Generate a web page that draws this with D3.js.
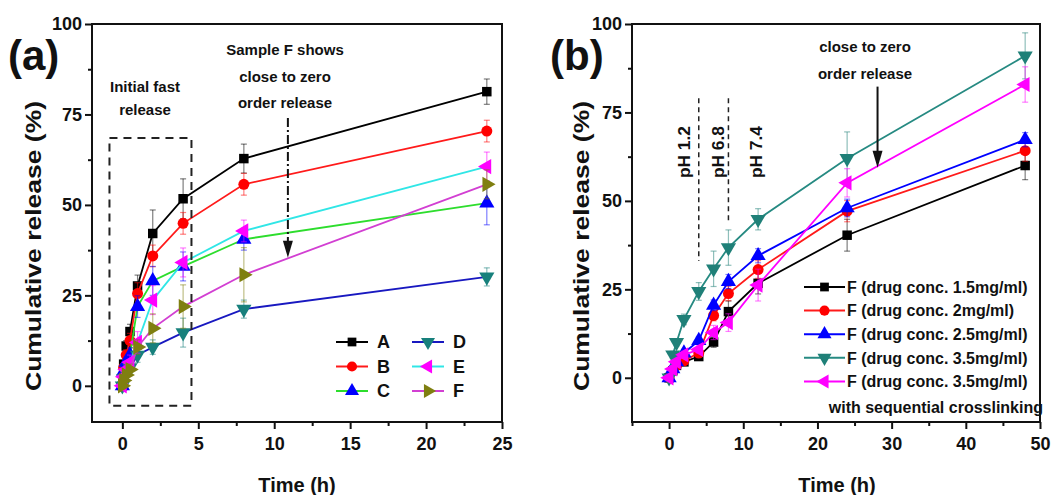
<!DOCTYPE html>
<html>
<head>
<meta charset="utf-8">
<script src="https://cdn.jsdelivr.net/npm/d3@7"></script>
<style>
  body { margin: 0; background: #fff; }
  svg text { font-family: 'Liberation Sans', Arial, sans-serif; font-weight: bold; fill: #111; }
</style>
</head>
<body>
<svg id="chart" width="1063" height="495"></svg>
<script>
// ---- panel (a): samples A-F ----
const timeA = [0, 0.083, 0.25, 0.5, 1, 2, 4, 8, 24]
const sampleNames = ['A', 'B', 'C', 'D', 'E', 'F']
const releaseA = [0, 6, 11, 15, 27.6, 42.1, 51.7, 62.8, 81.3]
const releaseB = [0, 5, 8.5, 12.5, 25.5, 35.9, 44.9, 55.7, 70.4]
const releaseC = [0, 4, 6.5, 8.5, 21.9, 29, 33, 40.5, 50.5]
const releaseD = [0, 2, 3.5, 5, 8.5, 10.7, 14.7, 21.2, 30.1]
const releaseE = [0, 2.5, 4.5, 6.5, 12, 23.7, 34.1, 42.8, 60.6]
const releaseF = [0, 1.5, 3, 4.5, 10.7, 15.9, 21.9, 30.7, 55.7]
const errA = [0, 1, 1.5, 2, 3, 6.5, 5.5, 4, 3.5]
const errB = [0, 1, 1.5, 2, 3, 3, 3, 3, 3]
const errC = [0, 1, 1, 2, 3, 4, 4, 3, 6]
const errD = [0, 1, 1, 1.5, 2, 2, 4, 2.5, 2.5]
const errE = [0, 1, 1, 2, 3, 4, 4, 3, 4]
const errF = [0, 1, 1, 1.5, 2, 4, 6, 7.5, 4]
const xTicksA = [0, 5, 10, 15, 20, 25]
const xMinorA = [2.5, 7.5, 12.5, 17.5, 22.5]

// ---- panel (b): sample F at different drug concentrations ----
const timeB = [0, 0.5, 1, 2, 4, 6, 8, 12, 24, 48]
const concNames = [
  'F (drug conc. 1.5mg/ml)', 'F (drug conc. 2mg/ml)', 'F (drug conc. 2.5mg/ml)',
  'F (drug conc. 3.5mg/ml)', 'F (drug conc. 3.5mg/ml)'
]
const conc15 = [0, 2, 3.5, 4.5, 6, 10.1, 18.7, 26.7, 40.3, 60.0]
const conc2 = [0, 2, 3.5, 4.8, 7, 17.6, 23.8, 30.6, 47.1, 64.2]
const conc25 = [0, 2.5, 4.5, 7, 10.5, 20.5, 27.2, 34.5, 48.0, 67.3]
const conc35 = [0, 6.5, 10, 16.5, 24.4, 30.8, 36.8, 44.8, 62, 91]
const conc35x = [0, 2.5, 4.5, 6.5, 8, 12.8, 15.6, 26.2, 55.1, 82.9]
const err15 = [0, 0.5, 0.5, 0.5, 1, 1.5, 3, 3, 4.5, 4]
const err2 = [0, 0.5, 0.5, 0.5, 1, 1.5, 2, 2.5, 3, 3]
const err25 = [0, 0.5, 0.5, 1, 1, 1.5, 2, 2, 2.5, 2]
const err35 = [0, 1, 1, 1.5, 2.5, 5, 5, 3, 7.5, 6.5]
const err35x = [0, 0.5, 0.5, 1, 1, 2, 2.5, 4.5, 4, 5]
const xTicksB = [0, 10, 20, 30, 40, 50]
const xMinorB = [-5, 5, 15, 25, 35, 45]

const yTicks = [0, 25, 50, 75, 100]
const yMinor = [12.5, 37.5, 62.5, 87.5]

const svg = d3.select('#chart')

const SQ = { type: d3.symbolSquare, size: 90, rot: 0 }
const CI = { type: d3.symbolCircle, size: 95, rot: 0 }
const UP = { type: d3.symbolTriangle, size: 100, rot: 0 }
const DN = { type: d3.symbolTriangle, size: 100, rot: 180 }
const LT = { type: d3.symbolTriangle, size: 100, rot: -90 }
const RT = { type: d3.symbolTriangle, size: 100, rot: 90 }

const seriesA = [
  { name: sampleNames[0], values: releaseA, err: errA, line: '#000000', marker: '#000000', sym: SQ },
  { name: sampleNames[1], values: releaseB, err: errB, line: '#ff1a1a', marker: '#ff0000', sym: CI },
  { name: sampleNames[2], values: releaseC, err: errC, line: '#2ddd2d', marker: '#0000ff', sym: UP },
  { name: sampleNames[3], values: releaseD, err: errD, line: '#1818c0', marker: '#17807c', sym: DN },
  { name: sampleNames[4], values: releaseE, err: errE, line: '#30e6e6', marker: '#ff00ff', sym: LT },
  { name: sampleNames[5], values: releaseF, err: errF, line: '#d23fd2', marker: '#7f7f10', sym: RT }
]
const seriesB = [
  { name: concNames[0], values: conc15, err: err15, line: '#000000', marker: '#000000', sym: SQ },
  { name: concNames[1], values: conc2, err: err2, line: '#ff1a1a', marker: '#ff0000', sym: CI },
  { name: concNames[2], values: conc25, err: err25, line: '#0000ff', marker: '#0000ff', sym: UP },
  { name: concNames[3], values: conc35, err: err35, line: '#268a82', marker: '#1f8078', sym: DN },
  { name: concNames[4], values: conc35x, err: err35x, line: '#ff00ff', marker: '#ff00ff', sym: LT }
]

function drawPanel (cfg) {
  const g = svg.append('g')
  const x = d3.scaleLinear().domain(cfg.xDomain).range([cfg.left, cfg.right])
  const y = d3.scaleLinear().domain(cfg.yDomain).range([cfg.bottom, cfg.top])

  // axes (ticks outward), frame drawn on top
  const xa = g.append('g').attr('transform', 'translate(0,' + cfg.bottom + ')')
    .call(d3.axisBottom(x).tickValues(cfg.xTicks).tickSize(7).tickPadding(8).tickSizeOuter(0))
  xa.append('g').call(d3.axisBottom(x).tickValues(cfg.xMinor).tickSize(4).tickFormat('').tickSizeOuter(0))
  const ya = g.append('g').attr('transform', 'translate(' + cfg.left + ',0)')
    .call(d3.axisLeft(y).tickValues(yTicks).tickSize(7).tickPadding(3).tickSizeOuter(0))
  ya.append('g').call(d3.axisLeft(y).tickValues(yMinor).tickSize(4).tickFormat('').tickSizeOuter(0))
  g.selectAll('.domain').remove()
  g.selectAll('.tick line').attr('stroke', '#111').attr('stroke-width', 2)
  g.selectAll('.tick text').style('font-size', '18px')

  g.append('rect')
    .attr('x', cfg.left).attr('y', cfg.top)
    .attr('width', cfg.right - cfg.left).attr('height', cfg.bottom - cfg.top)
    .attr('fill', 'none').attr('stroke', '#111').attr('stroke-width', 2)

  // titles
  g.append('text')
    .attr('x', cfg.xTitleX).attr('y', 492)
    .attr('text-anchor', 'middle').style('font-size', '20px')
    .text('Time (h)')
  g.append('text')
    .attr('transform', 'translate(' + cfg.yTitleX + ',246) rotate(-90)')
    .attr('text-anchor', 'middle').attr('dy', '0.35em')
    .attr('textLength', 290).attr('lengthAdjust', 'spacingAndGlyphs')
    .style('font-size', '22px')
    .text('Cumulative release (%)')
  g.append('text')
    .attr('x', cfg.tagX).attr('y', 70)
    .style('font-size', '42px')
    .text(cfg.tag)

  // series
  const line = d3.line().x(d => x(d.t)).y(d => y(d.v))
  cfg.series.forEach(s => {
    const pts = s.values.map((v, i) => ({ t: cfg.time[i], v: v, e: s.err[i] }))
    g.append('path').datum(pts)
      .attr('fill', 'none').attr('stroke', s.line).attr('stroke-width', 1.8)
      .attr('d', line)
    const eb = g.append('g').attr('stroke', s.marker).attr('stroke-opacity', 0.5).attr('stroke-width', 1.2)
    const withErr = pts.filter(d => d.e > 0)
    eb.selectAll('.v').data(withErr).enter().append('line')
      .attr('x1', d => x(d.t)).attr('x2', d => x(d.t))
      .attr('y1', d => y(d.v - d.e)).attr('y2', d => y(d.v + d.e))
    eb.selectAll('.cap').data(withErr.flatMap(d => [d.v - d.e, d.v + d.e].map(v => ({ t: d.t, v: v }))))
      .enter().append('line')
      .attr('x1', d => x(d.t) - 3).attr('x2', d => x(d.t) + 3)
      .attr('y1', d => y(d.v)).attr('y2', d => y(d.v))
    g.append('g').selectAll('path').data(pts).enter().append('path')
      .attr('d', d3.symbol().type(s.sym.type).size(s.sym.size))
      .attr('transform', d => 'translate(' + x(d.t) + ',' + y(d.v) + ') rotate(' + s.sym.rot + ')')
      .attr('fill', s.marker)
  })

  // legend
  cfg.series.forEach((s, i) => {
    const p = cfg.legendPos(i)
    const lg = g.append('g').attr('transform', 'translate(' + p[0] + ',' + p[1] + ')')
    lg.append('line').attr('x1', 0).attr('x2', cfg.legendLen)
      .attr('stroke', s.line).attr('stroke-width', 2)
    lg.append('path')
      .attr('d', d3.symbol().type(s.sym.type).size(s.sym.size * 0.85))
      .attr('transform', 'translate(' + cfg.legendLen / 2 + ',0) rotate(' + s.sym.rot + ')')
      .attr('fill', s.marker)
    lg.append('text').attr('x', cfg.legendLen + cfg.legendGap).attr('dy', '0.36em')
      .style('font-size', cfg.legendFont + 'px')
      .text(s.name)
  })

  return { g: g, x: x, y: y }
}

function arrowDown (g, x0, yTop, yTip, dash) {
  g.append('line').attr('x1', x0).attr('x2', x0).attr('y1', yTop).attr('y2', yTip - 14)
    .attr('stroke', '#111').attr('stroke-width', 2).attr('stroke-dasharray', dash)
  g.append('path')
    .attr('d', 'M' + (x0 - 5) + ',' + (yTip - 17) + 'L' + (x0 + 5) + ',' + (yTip - 17) + 'L' + x0 + ',' + yTip + 'Z')
    .attr('fill', '#111')
}

function centeredLines (g, cx, ys, lines, size) {
  lines.forEach((t, i) => {
    g.append('text').attr('x', cx).attr('y', ys[i]).attr('dy', '0.35em')
      .attr('text-anchor', 'middle').style('font-size', size + 'px').text(t)
  })
}

// ---------- panel (a) ----------
const pa = drawPanel({
  left: 92, right: 502, top: 24, bottom: 422,
  xDomain: [-2, 25], yDomain: [-10, 100],
  xTicks: xTicksA, xMinor: xMinorA,
  time: timeA, series: seriesA,
  xTitleX: 297, yTitleX: 33, tag: '(a)', tagX: 8,
  legendLen: 32, legendGap: 9, legendFont: 18,
  // two columns: A-C left, D-F right
  legendPos: i => [i < 3 ? 336 : 412, 342 + (i % 3) * 24.5]
})
pa.g.append('rect')
  .attr('x', pa.x(-0.85)).attr('y', pa.y(68.5))
  .attr('width', pa.x(4.55) - pa.x(-0.85)).attr('height', pa.y(-5.5) - pa.y(68.5))
  .attr('fill', 'none').attr('stroke', '#222').attr('stroke-width', 2).attr('stroke-dasharray', '8,6')
centeredLines(pa.g, 145, [87, 110], ['Initial fast', 'release'], 15)
centeredLines(pa.g, 285, [50, 77, 103], ['Sample F shows', 'close to zero', 'order release'], 15)
arrowDown(pa.g, pa.x(10.9), pa.y(74), pa.y(35.4), '9,3,2,3')

// ---------- panel (b) ----------
const pb = drawPanel({
  left: 632, right: 1040, top: 24, bottom: 422,
  xDomain: [-5, 50], yDomain: [-12.5, 100],
  xTicks: xTicksB, xMinor: xMinorB,
  time: timeB, series: seriesB,
  xTitleX: 837, yTitleX: 581, tag: '(b)', tagX: 550,
  legendLen: 41, legendGap: 2, legendFont: 16,
  legendPos: i => [804, 287 + i * 23.6]
})
pb.g.append('text').attr('x', 1043).attr('y', 407).attr('dy', '0.35em')
  .attr('text-anchor', 'end').style('font-size', '16px').text('with sequential crosslinking')
// pH change markers
;[[4, 79, 33], [8, 79, 44]].forEach(d => {
  pb.g.append('line').attr('x1', pb.x(d[0])).attr('x2', pb.x(d[0]))
    .attr('y1', pb.y(d[1])).attr('y2', pb.y(d[2]))
    .attr('stroke', '#222').attr('stroke-width', 1.5).attr('stroke-dasharray', '5,4')
})
;[['pH 1.2', 2], ['pH 6.8', 6.6], ['pH 7.4', 11.8]].forEach(d => {
  pb.g.append('text')
    .attr('transform', 'translate(' + pb.x(d[1]) + ',' + pb.y(63.8) + ') rotate(-90)')
    .attr('text-anchor', 'middle').attr('dy', '0.35em')
    .attr('textLength', 52).attr('lengthAdjust', 'spacingAndGlyphs')
    .style('font-size', '16px').text(d[0])
})
centeredLines(pb.g, 865, [47, 74], ['close to zero', 'order release'], 15)
arrowDown(pb.g, pb.x(28.1), pb.y(82.3), pb.y(59.4), null)
</script>
</body>
</html>
